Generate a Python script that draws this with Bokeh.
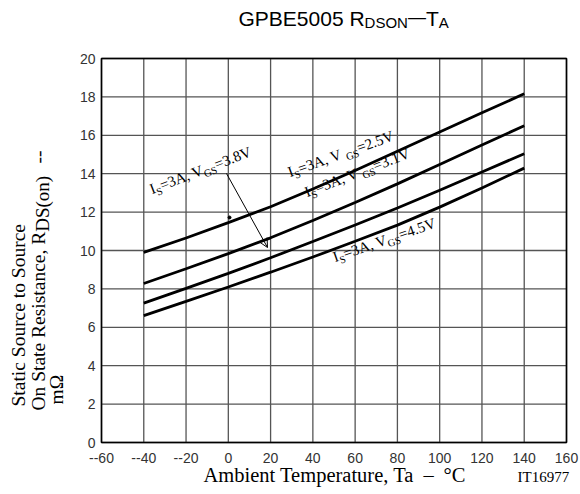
import math
from bokeh.plotting import figure
from bokeh.models import Label, Arrow, OpenHead, FixedTicker
from bokeh.embed import file_html
from bokeh.resources import INLINE

# ---------------- data ----------------
temps = [-40, -20, 0, 20, 40, 60, 80, 100, 120, 140]
r_vgs25 = [9.9, 10.65, 11.45, 12.28, 13.2, 14.17, 15.17, 16.17, 17.17, 18.16]
r_vgs31 = [8.28, 9.05, 9.84, 10.66, 11.56, 12.5, 13.47, 14.48, 15.49, 16.5]
r_vgs38 = [7.26, 8.03, 8.81, 9.62, 10.47, 11.33, 12.21, 13.14, 14.09, 15.04]
r_vgs45 = [6.61, 7.35, 8.1, 8.87, 9.66, 10.48, 11.32, 12.26, 13.26, 14.29]

x_ticks = [-60, -40, -20, 0, 20, 40, 60, 80, 100, 120, 140, 160]
x_tick_labels = ["--60", "--40", "--20", "0", "20", "40", "60", "80", "100", "120", "140", "160"]
y_ticks = [0, 2, 4, 6, 8, 10, 12, 14, 16, 18, 20]

SERIF = "Liberation Serif"
SANS = "Liberation Sans"

# ---------------- layout (canvas px of the plot box) ----------------
W, H = 580, 494
FL, FR, FT, FB = 101, 566, 58, 442
XMIN, XMAX = x_ticks[0], x_ticks[-1]
YMIN, YMAX = y_ticks[0], y_ticks[-1]
KX = (FR - FL) / (XMAX - XMIN)
KY = (FB - FT) / (YMAX - YMIN)


def X(px):
    return XMIN + (px - FL) / KX


def Y(py):
    return YMIN + (FB - py) / KY


p = figure(width=W, height=H, x_range=(X(0), X(W)), y_range=(Y(H), Y(0)),
           output_backend="svg", toolbar_location=None,
           min_border_left=0, min_border_right=0,
           min_border_top=0, min_border_bottom=0)
p.background_fill_color = "white"
p.border_fill_color = "white"
p.outline_line_color = None
p.grid.visible = False

p.xaxis.fixed_location = YMIN
p.yaxis.fixed_location = XMIN
p.xaxis.bounds = (XMIN, XMAX)
p.yaxis.bounds = (YMIN, YMAX)
for ax in (p.xaxis[0], p.yaxis[0]):
    ax.major_tick_in = 0
    ax.major_tick_out = 0
    ax.minor_tick_in = 0
    ax.minor_tick_out = 0
    ax.axis_line_color = None
    ax.major_label_text_font = SANS
    ax.major_label_text_font_size = "14px"
    ax.major_label_text_color = "#333333"

p.xaxis.ticker = FixedTicker(ticks=x_ticks)
p.xaxis.major_label_overrides = {t: l for t, l in zip(x_ticks, x_tick_labels)}
p.xaxis.major_label_standoff = 10
p.yaxis.ticker = FixedTicker(ticks=y_ticks)
p.yaxis.major_label_standoff = 6

# grid lines at the ticks, limited to the plot box
p.segment(x0=x_ticks, y0=[YMIN] * len(x_ticks), x1=x_ticks, y1=[YMAX] * len(x_ticks),
          line_color="#555555", line_width=1.3)
p.segment(x0=[XMIN] * len(y_ticks), y0=y_ticks, x1=[XMAX] * len(y_ticks), y1=y_ticks,
          line_color="#555555", line_width=1.3)

# ---------------- annotation helpers ----------------
TIMES = {' ': 250, ',': 250, '-': 333, '.': 250, '=': 564, '(': 333, ')': 333,
         'A': 722, 'C': 667, 'D': 722, 'G': 722, 'I': 333, 'O': 722, 'R': 667,
         'S': 556, 'T': 611, 'V': 722, 'a': 444, 'b': 500, 'c': 444, 'e': 444,
         'i': 278, 'm': 778, 'n': 500, 'o': 500, 'p': 500, 'r': 333, 's': 389,
         't': 278, 'u': 500, '°': 400, '–': 500, 'Ω': 768}
ARIAL = {' ': 278, 'G': 778, 'P': 667, 'B': 667, 'E': 667, 'R': 722, 'D': 722,
         'S': 667, 'O': 778, 'N': 722, '—': 1000, 'T': 611, 'A': 667,
         '0': 556, '5': 556}
BASE_FIX = 0.42  # em: lift so that the glyph baseline sits on the given point


def tw(text, metrics):
    return sum(metrics.get(c, 500) for c in text) / 1000.0


def rich(px, py, angle_deg, pieces, font, metrics, bg=False):
    th = math.radians(angle_deg)
    ux, uy = math.cos(th), -math.sin(th)
    nx, ny = math.sin(th), math.cos(th)
    pos = 0.0
    for text, size, drop in pieces:
        d = drop - BASE_FIX * size
        cx = px + ux * pos + nx * d
        cy = py + uy * pos + ny * d
        common = dict(x=X(cx), y=Y(cy), text=text, angle=th,
                      text_font=font, text_font_size=f"{size}px",
                      text_align="left", text_baseline="alphabetic")
        if bg:
            p.add_layout(Label(level="underlay", text_alpha=0.0,
                               background_fill_color="white", **common))
        p.add_layout(Label(text_color="black", **common))
        pos += tw(text, metrics) * size


# ---------------- curves ----------------
for r in (r_vgs25, r_vgs31, r_vgs38, r_vgs45):
    p.line(temps, r, line_color="black", line_width=2.8)

# plot box
p.quad(left=[XMIN], right=[XMAX], bottom=[YMIN], top=[YMAX],
       fill_color=None, line_color="black", line_width=1.6)

# ---------------- title ----------------
rich(238, 27, 0, [("GPBE5005 R", 21, 0), ("DSON", 15, 1.5), ("—", 18, -3),
                  ("T", 21, 0), ("A", 15, 1.5)], SANS, ARIAL)

# ---------------- axis titles ----------------
rich(26, 406, 90, [("Static Source to Source", 19.5, 0)], SERIF, TIMES)
rich(46, 410, 90, [("On State Resistance, R", 19.5, 0), ("DS(on)", 19, 4)], SERIF, TIMES)
rich(46, 163, 90, [("--", 19.5, 0)], SERIF, TIMES)
rich(64, 404, 90, [("mΩ", 19.5, 0)], SERIF, TIMES)

rich(203, 483, 0, [("Ambient Temperature, Ta", 20.5, 0)], SERIF, TIMES)
rich(423, 483, 0, [("–", 20.5, 0)], SERIF, TIMES)
rich(443, 483, 0, [("°C", 20.5, 0)], SERIF, TIMES)
rich(517, 483, 0, [("IT16977", 15, 0)], SERIF, TIMES)

# ---------------- curve annotations ----------------
M, S, D = 15, 10.5, 3
rich(152, 195, 21, [("I", M, 0), ("S", S, D), ("=3A, V", M, 0), ("GS", S, D), ("=3.8V", M, 0)],
     SERIF, TIMES, bg=True)
rich(290, 178, 19.6, [("I", M, 0), ("S", S, D), ("=3A, V ", M, 0), ("GS", S, D), ("=2.5V", M, 0)],
     SERIF, TIMES, bg=True)
rich(307, 198, 21, [("I", M, 0), ("S", S, D), ("=3A, V ", M, 0), ("GS", S, D), ("=3.1V", M, 0)],
     SERIF, TIMES, bg=True)
rich(335, 263, 19, [("I", M, 0), ("S", S, D), ("=3A, V", M, 0), ("GS", S, D), ("=4.5V", M, 0)],
     SERIF, TIMES, bg=True)

p.add_layout(Arrow(end=OpenHead(size=9, line_width=1.0, line_color="black"),
                   x_start=X(226), y_start=Y(173), x_end=X(267), y_end=Y(247),
                   line_width=1.0, line_color="black"))
p.scatter([X(229)], [Y(217)], size=3, color="black")

open("out.html", "w").write(file_html(p, INLINE))
